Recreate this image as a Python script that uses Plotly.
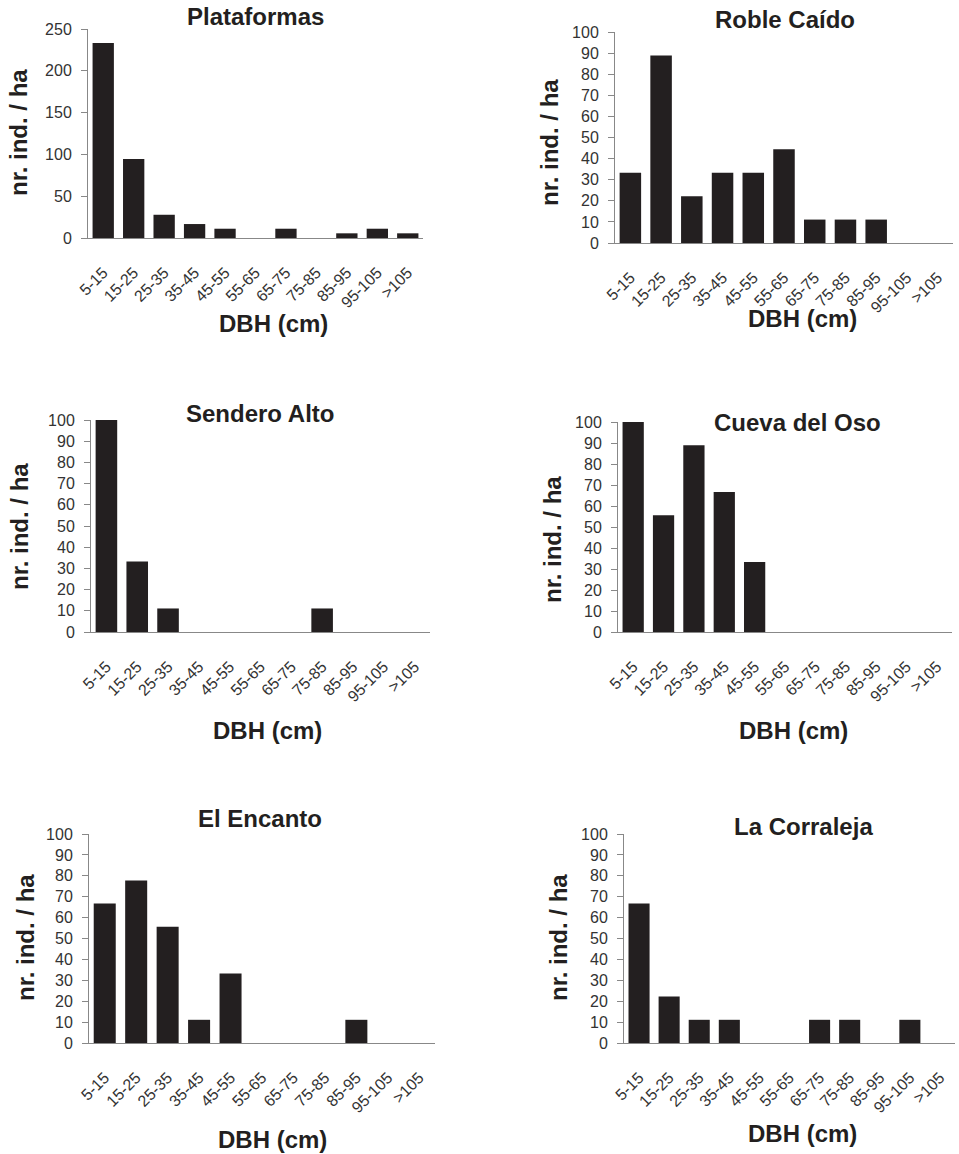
import plotly.graph_objects as go

categories = ["5-15", "15-25", "25-35", "35-45", "45-55", "55-65", "65-75",
              "75-85", "85-95", "95-105", ">105"]

plataformas = [233.3, 94.4, 27.8, 16.7, 11.1, 0, 11.1, 0, 5.6, 11.1, 5.6]
roble_caido = [33.3, 88.9, 22.2, 33.3, 33.3, 44.4, 11.1, 11.1, 11.1, 0, 0]
sendero_alto = [100, 33.3, 11.1, 0, 0, 0, 0, 11.1, 0, 0, 0]
cueva_del_oso = [100, 55.6, 88.9, 66.7, 33.3, 0, 0, 0, 0, 0, 0]
el_encanto = [66.7, 77.8, 55.6, 11.1, 33.3, 0, 0, 0, 11.1, 0, 0]
la_corraleja = [66.7, 22.2, 11.1, 11.1, 0, 0, 11.1, 11.1, 0, 11.1, 0]

titles = ["Plataformas", "Roble Caído", "Sendero Alto", "Cueva del Oso",
          "El Encanto", "La Corraleja"]
series = [plataformas, roble_caido, sendero_alto, cueva_del_oso, el_encanto, la_corraleja]
y_max = [250, 100, 100, 100, 100, 100]
y_dtick = [50, 10, 10, 10, 10, 10]

W, H = 959, 1154
# plot area pixel boxes: (x0, x1, ytop, ybottom)
boxes = [
    (88, 423, 29, 238),
    (615, 953, 32, 243),
    (91, 430, 420, 632),
    (618, 952, 422, 632),
    (89, 435, 834, 1043),
    (624, 955, 834, 1043),
]
# title centers (x, y) in px
title_pos = [(255, 17), (785, 20), (260, 413), (797, 422), (260, 818), (803, 827)]
ytitle_pos = [(18, 133), (550, 143), (20, 527), (552, 540), (25, 938), (558, 938)]
xtitle_pos = [(273, 323), (802, 318), (267, 730), (793, 730), (272, 1139), (802, 1133)]

fig = go.Figure()
font_family = "Liberation Sans, Arial, sans-serif"
annotations = []
for i, (vals, box) in enumerate(zip(series, boxes)):
    n = "" if i == 0 else str(i + 1)
    x0, x1, yt, yb = box
    fig.add_trace(go.Bar(x=categories, y=vals, xaxis="x" + n, yaxis="y" + n,
                         marker=dict(color="#231f20", line=dict(width=0)),
                         showlegend=False))
    fig.layout["xaxis" + n] = dict(
        domain=[x0 / W, x1 / W], anchor="y" + n, type="category",
        tickangle=-45, tickfont=dict(size=16, color="#333333", family=font_family),
        ticklabelstandoff=18,
        showline=True, linecolor="#888888", linewidth=1, ticks="",
        showgrid=False, zeroline=False, fixedrange=True, automargin=False)
    fig.layout["yaxis" + n] = dict(
        domain=[1 - yb / H, 1 - yt / H], anchor="x" + n,
        range=[0, y_max[i]], dtick=y_dtick[i],
        tickfont=dict(size=16, color="#333333", family=font_family),
        showline=True, linecolor="#888888", linewidth=1,
        ticks="outside", ticklen=6, tickcolor="#888888", ticklabelstandoff=6,
        showgrid=False, zeroline=False, fixedrange=True, automargin=False)
    tx, ty = title_pos[i]
    annotations.append(dict(text="<b>%s</b>" % titles[i], x=tx / W, y=1 - ty / H,
                            xref="paper", yref="paper", showarrow=False,
                            xanchor="center", yanchor="middle",
                            font=dict(size=24, color="#231f20", family=font_family)))
    ax, ay = ytitle_pos[i]
    annotations.append(dict(text="<b>nr. ind. / ha</b>", x=ax / W, y=1 - ay / H,
                            xref="paper", yref="paper", showarrow=False, textangle=-90,
                            xanchor="center", yanchor="middle",
                            font=dict(size=24, color="#231f20", family=font_family)))
    bx, by = xtitle_pos[i]
    annotations.append(dict(text="<b>DBH (cm)</b>", x=bx / W, y=1 - by / H,
                            xref="paper", yref="paper", showarrow=False,
                            xanchor="center", yanchor="middle",
                            font=dict(size=24, color="#231f20", family=font_family)))

fig.update_layout(width=W, height=H, margin=dict(l=0, r=0, t=0, b=0, autoexpand=False),
                  paper_bgcolor="white", plot_bgcolor="white", bargap=0.3,
                  hovermode=False, annotations=annotations)
fig.write_html("out.html", config={"displayModeBar": False, "staticPlot": True},
               post_script="document.body.style.margin='0';document.body.style.overflow='hidden';")
